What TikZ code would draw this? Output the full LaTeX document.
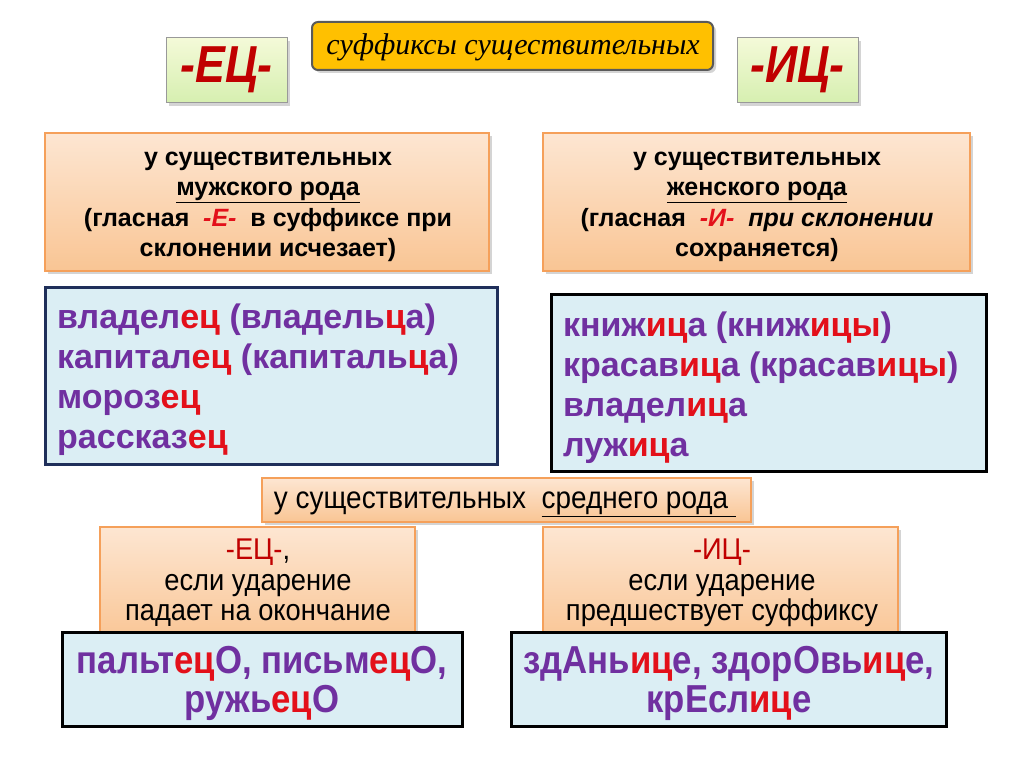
\documentclass[tikz,border=0pt]{standalone}
\usepackage{fontspec}
\setmainfont{Liberation Sans}
\newfontfamily\narrowf[FakeStretch=0.91]{Liberation Sans}
\newfontfamily\midf[FakeStretch=0.9]{Liberation Sans}
\newfontfamily\botf[FakeStretch=0.89]{Liberation Sans}
\newfontfamily\labelf[FakeStretch=0.86]{Liberation Sans}
\newfontfamily\serifit{Liberation Serif}
\usetikzlibrary{shadows}
\definecolor{gold}{HTML}{FFC000}
\definecolor{goldline}{HTML}{5A5A5A}
\definecolor{orline}{HTML}{F5A05A}
\definecolor{ortop}{HTML}{FDE6D2}
\definecolor{orbot}{HTML}{F9C594}
\definecolor{grtop}{HTML}{F4FAD8}
\definecolor{grbot}{HTML}{D6EFB0}
\definecolor{blfill}{HTML}{DBEEF4}
\definecolor{navy}{HTML}{1F2F5A}
\definecolor{purp}{HTML}{7030A0}
\definecolor{redt}{HTML}{E3101A}
\definecolor{dred}{HTML}{C00000}
\newcommand{\rr}[1]{\textcolor{redt}{#1}}
\tikzset{
  shad/.style={drop shadow={shadow xshift=3pt,shadow yshift=-3pt,opacity=0.28,fill=black!60}},
  orbox/.style={shad,draw=orline,line width=2pt,top color=ortop,bottom color=orbot,inner sep=0pt},
  grbox/.style={shad,draw=black!40,line width=1pt,top color=grtop,bottom color=grbot,inner sep=0pt},
  blbox/.style={draw=navy,line width=3pt,fill=blfill,inner sep=0pt},
  bkbox/.style={draw=black,line width=3pt,fill=blfill,inner sep=0pt},
  ortext/.style={font=\bfseries\fontsize{25}{30.5}\selectfont,align=center,inner sep=0pt},
  bltext/.style={font=\bfseries\fontsize{34}{40}\selectfont,text=purp,align=left,inner sep=0pt,anchor=west},
  narrowtext/.style={font=\narrowf\fontsize{30}{30.5}\selectfont,align=center,inner sep=0pt},
  bottext/.style={font=\botf\bfseries\fontsize{39}{39}\selectfont,text=purp,align=center,inner sep=0pt}
}
\begin{document}
\begin{tikzpicture}[x=1pt,y=-1pt]
\useasboundingbox (0,0) rectangle (1024,767);
\fill[white] (0,0) rectangle (1024,767);

% title
\node[shad,draw=goldline,line width=2pt,fill=gold,rounded corners=6pt,minimum width=401pt,minimum height=48pt] (title) at (512.5,46) {};
\node[font=\serifit\itshape\fontsize{30}{30}\selectfont,text=black,inner sep=0pt] (titletext) at (513,47) {суффиксы существительных};

% green labels
\node[grbox,minimum width=121pt,minimum height=65pt] (ec) at (226.5,70.5) {};
\node[font=\labelf\bfseries\itshape\fontsize{52}{52}\selectfont,text=dred,inner sep=0pt] (ectext) at (226.5,70) {-ЕЦ-};
\node[grbox,minimum width=121pt,minimum height=65pt] (ic) at (797.5,70.5) {};
\node[font=\labelf\bfseries\itshape\fontsize{52}{52}\selectfont,text=dred,inner sep=0pt] (ictext) at (797.5,70) {-ИЦ-};

% top orange boxes
\node[orbox,minimum width=444pt,minimum height=138pt] (mleft) at (267,202) {};
\node[ortext] (mlefttext) at (268,207) {у существительных\\\underline{мужского рода}\\(гласная \ \textcolor{redt}{\itshape -Е-} \ в суффиксе при\\склонении исчезает)};
\node[orbox,minimum width=427pt,minimum height=138pt] (fright) at (756.5,202) {};
\node[ortext] (frighttext) at (757,207) {у существительных\\\underline{женского рода}\\(гласная \ \textcolor{redt}{\itshape -И-} \ {\itshape при склонении}\\сохраняется)};

% blue boxes
\node[blbox,minimum width=452pt,minimum height=177pt] (bleft) at (271,375.5) {};
\node[bltext] (blefttext) at (57,380) {владел\rr{ец} (владель\rr{ц}а)\\капитал\rr{ец} (капиталь\rr{ц}а)\\мороз\rr{ец}\\рассказ\rr{ец}};
\node[bkbox,minimum width=435pt,minimum height=177pt] (bright) at (768.5,382.5) {};
\node[bltext] (brighttext) at (563,388) {книж\rr{иц}а (книж\rr{ицы})\\красав\rr{иц}а (красав\rr{ицы})\\владел\rr{иц}а\\луж\rr{иц}а};

% middle
\node[orbox,minimum width=489pt,minimum height=44pt] (mid) at (506.5,500) {};
\node[font=\midf\fontsize{31}{31}\selectfont,inner sep=0pt] (midtext) at (505,504) {у существительных \ \underline{среднего рода\ }};

% lower orange
\node[orbox,minimum width=315pt,minimum height=115pt] (nleft) at (257.5,584.5) {};
\node[narrowtext] (nlefttext) at (258,583) {\textcolor{dred}{-ЕЦ-},\\если ударение\\падает на окончание};
\node[orbox,minimum width=355pt,minimum height=115pt] (nright) at (720.5,584.5) {};
\node[narrowtext] (nrighttext) at (722,583) {\textcolor{dred}{-ИЦ-}\\если ударение\\предшествует суффиксу};

% bottom blue
\node[bkbox,minimum width=400pt,minimum height=94pt] (bbleft) at (262,679) {};
\node[bottext] (bblefttext) at (262,683) {пальт\rr{ец}О, письм\rr{ец}О,\\ружь\rr{ец}О};
\node[bkbox,minimum width=435pt,minimum height=94pt] (bbright) at (728.5,679) {};
\node[bottext] (bbrighttext) at (729,683) {здАнь\rr{иц}е, здорОвь\rr{иц}е,\\крЕсл\rr{иц}е};
\end{tikzpicture}
\end{document}
